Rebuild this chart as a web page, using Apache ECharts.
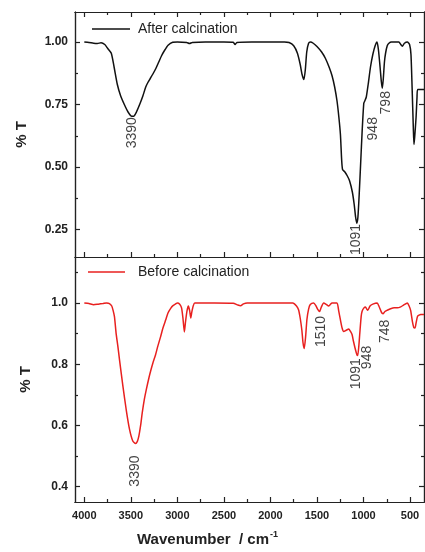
<!DOCTYPE html>
<html>
<head>
<meta charset="utf-8">
<script src="https://cdn.jsdelivr.net/npm/echarts@6/dist/echarts.min.js"></script>
<style>
html, body { margin: 0; padding: 0; background: #fff; }
#chart { width: 425px; height: 552px; }
</style>
</head>
<body>
<div id="chart"></div>
<script>
//刻度
var xMajor = [500, 1000, 1500, 2000, 2500, 3000, 3500, 4000];
var xMinor = [750, 1250, 1750, 2250, 2750, 3250, 3750];
var yTopMajor = [0.25, 0.5, 0.75, 1.0];
var yTopMinor = [0.375, 0.625, 0.875];
var yBotMajor = [0.4, 0.6, 0.8, 1.0];
var yBotMinor = [0.5, 0.7, 0.9, 1.1];

//After calcination  [wavenumber, %T]
var afterCalc = [
	[4000, 1.0], [3950, 0.998], [3900, 0.995], [3860, 0.994], [3820, 0.997], [3780, 0.99],
	[3750, 0.975], [3710, 0.955], [3680, 0.90], [3645, 0.83], [3610, 0.785], [3570, 0.75],
	[3530, 0.72], [3490, 0.703], [3470, 0.703], [3440, 0.72], [3400, 0.755], [3370, 0.785],
	[3340, 0.82], [3317, 0.838], [3290, 0.855], [3263, 0.872], [3230, 0.895], [3200, 0.92],
	[3170, 0.945], [3140, 0.965], [3100, 0.987], [3050, 0.999], [3000, 1.0], [2900, 0.998],
	[2870, 0.994], [2840, 0.998], [2700, 1.0], [2500, 1.0], [2400, 0.999], [2380, 0.99],
	[2360, 0.998], [2200, 1.0], [2000, 1.0], [1850, 1.0], [1800, 0.998], [1750, 0.985],
	[1710, 0.955], [1680, 0.91], [1660, 0.87], [1640, 0.85], [1625, 0.89], [1610, 0.96],
	[1590, 0.995], [1570, 1.0], [1540, 0.995], [1500, 0.982], [1450, 0.96], [1410, 0.935],
	[1370, 0.9], [1338, 0.865], [1310, 0.82], [1285, 0.765], [1265, 0.7], [1248, 0.63],
	[1235, 0.53], [1225, 0.49], [1200, 0.48], [1175, 0.465], [1150, 0.445], [1120, 0.4],
	[1100, 0.35], [1085, 0.3], [1072, 0.275], [1060, 0.3], [1045, 0.4], [1030, 0.52],
	[1015, 0.64], [997, 0.755], [985, 0.765], [970, 0.78], [950, 0.83], [925, 0.9],
	[900, 0.95], [875, 0.985], [855, 1.0], [840, 0.97], [822, 0.9], [808, 0.84],
	[798, 0.815], [788, 0.85], [775, 0.92], [763, 0.955], [745, 0.985], [727, 0.995],
	[700, 1.0], [620, 1.0], [600, 0.99], [583, 0.983], [560, 0.995], [529, 1.0],
	[505, 0.99], [490, 0.95], [478, 0.82], [465, 0.66], [458, 0.59], [450, 0.62],
	[435, 0.70], [425, 0.78], [418, 0.81], [350, 0.81]
];

//Before calcination  [wavenumber, %T]
var beforeCalc = [
	[4000, 1.0], [3950, 0.998], [3900, 0.994], [3850, 0.996], [3800, 0.998], [3760, 1.0],
	[3730, 0.998], [3705, 0.99], [3690, 0.975], [3676, 0.955], [3658, 0.9], [3640, 0.86],
	[3622, 0.815], [3586, 0.73], [3550, 0.652], [3514, 0.587], [3479, 0.549], [3450, 0.541],
	[3430, 0.548], [3414, 0.565], [3395, 0.6], [3378, 0.64], [3355, 0.685], [3334, 0.717],
	[3306, 0.755], [3285, 0.78], [3263, 0.804], [3235, 0.83], [3210, 0.859], [3180, 0.89],
	[3155, 0.918], [3125, 0.945], [3101, 0.967], [3070, 0.983], [3047, 0.991], [3000, 1.0],
	[2975, 0.996], [2955, 0.984], [2940, 0.95], [2925, 0.905], [2912, 0.94], [2896, 0.975],
	[2882, 0.99], [2868, 0.975], [2856, 0.951], [2845, 0.97], [2830, 0.99], [2813, 1.0],
	[2600, 1.0], [2400, 0.999], [2350, 0.993], [2320, 0.991], [2290, 0.997], [2250, 1.0],
	[2000, 1.0], [1760, 1.0], [1720, 0.99], [1698, 0.978], [1680, 0.95], [1662, 0.91],
	[1650, 0.87], [1637, 0.851], [1622, 0.89], [1608, 0.946], [1590, 0.98], [1572, 0.995],
	[1536, 1.0], [1510, 0.99], [1490, 0.978], [1472, 0.972], [1455, 0.985], [1428, 1.0],
	[1400, 0.995], [1375, 0.99], [1357, 0.995], [1338, 1.0], [1285, 1.0], [1267, 0.975],
	[1249, 0.946], [1230, 0.918], [1213, 0.907], [1190, 0.91], [1159, 0.915], [1140, 0.907],
	[1123, 0.897], [1108, 0.875], [1087, 0.848], [1070, 0.83], [1062, 0.828], [1050, 0.86],
	[1040, 0.9], [1025, 0.956], [1015, 0.973], [995, 0.984], [979, 0.987], [965, 0.98],
	[954, 0.976], [930, 0.99], [900, 0.996], [853, 1.0], [835, 0.99], [815, 0.975],
	[800, 0.966], [788, 0.965], [770, 0.972], [745, 0.976], [709, 0.981], [670, 0.984],
	[637, 0.984], [600, 0.987], [570, 0.993], [529, 1.0], [510, 0.99], [493, 0.975],
	[475, 0.94], [460, 0.92], [447, 0.918], [435, 0.935], [420, 0.956], [403, 0.96],
	[385, 0.962], [350, 0.962]
];

//峰位标注 [wavenumber, %T, text]
var afterPeaks = [[3482, 0.637, '3390'], [1076, 0.21, '1091'], [892, 0.653, '948'], [752, 0.757, '798']];
var beforePeaks = [[3450, 0.451, '3390'], [1454, 0.907, '1510'], [1079, 0.769, '1091'], [960, 0.822, '948'], [763, 0.907, '748']];

(function() {
	var font = '"Liberation Sans", Arial, sans-serif';
	var ink = '#222';
	var axisLine = { show: true, onZero: false, lineStyle: { color: ink, width: 1.2 } };

	//横轴
	function xAxisOf(grid, pos, ticks, len, labels) {
		return {
			type: 'value', gridIndex: grid, position: pos,
			min: 350, max: 4100, inverse: true,
			axisLine: axisLine,
			axisTick: { show: true, inside: true, length: len, customValues: ticks, lineStyle: { color: ink, width: 1.2 } },
			axisLabel: labels ? {
				show: true, customValues: ticks, margin: 8, color: ink,
				fontSize: 11, fontWeight: 'bold', fontFamily: font,
				formatter: function(v) { return String(v); }
			} : { show: false },
			splitLine: { show: false }
		};
	}

	//纵轴
	function yAxisOf(grid, pos, min, max, ticks, len, digits, gap) {
		var axis = {
			type: 'value', gridIndex: grid, position: pos, min: min, max: max,
			axisLine: axisLine,
			axisTick: { show: true, inside: true, length: len, customValues: ticks, lineStyle: { color: ink, width: 1.2 } },
			axisLabel: { show: false },
			splitLine: { show: false }
		};
		if (digits) {
			axis.axisLabel = {
				show: true, customValues: ticks, margin: 7, color: ink,
				fontSize: 12, fontWeight: 'bold', fontFamily: font,
				formatter: function(v) { return v.toFixed(digits); }
			};
			axis.name = '% T';
			axis.nameLocation = 'middle';
			axis.nameRotate = 90;
			axis.nameGap = gap;
			axis.nameTextStyle = { fontSize: 15, fontWeight: 'bold', color: ink, fontFamily: font };
		}
		return axis;
	}

	//峰位文字
	function peakSeries(xi, yi, data) {
		return {
			type: 'scatter', xAxisIndex: xi, yAxisIndex: yi, data: data,
			symbolSize: 1, itemStyle: { color: 'rgba(0,0,0,0)' }, silent: true, clip: false,
			label: {
				show: true, position: 'inside', rotate: 90, align: 'center', verticalAlign: 'middle',
				fontSize: 14, color: '#111', fontFamily: font,
				formatter: function(p) { return p.data[2]; }
			},
			emphasis: { disabled: true }
		};
	}

	var chart = echarts.init(document.getElementById('chart'));
	chart.setOption({
		animation: false,
		backgroundColor: '#fff',
		grid: [
			{ left: 75, right: 1, top: 12, height: 245, outerBoundsMode: 'none' },
			{ left: 75, right: 1, top: 257, height: 245, outerBoundsMode: 'none' }
		],
		xAxis: [
			xAxisOf(0, 'bottom', xMajor, 5, false),
			xAxisOf(0, 'bottom', xMinor, 3, false),
			xAxisOf(0, 'top', xMajor, 5, false),
			xAxisOf(0, 'top', xMinor, 3, false),
			xAxisOf(1, 'bottom', xMajor, 5, true),
			xAxisOf(1, 'bottom', xMinor, 3, false)
		],
		yAxis: [
			yAxisOf(0, 'left', 0.14, 1.12, yTopMajor, 5, 2, 46),
			yAxisOf(0, 'left', 0.14, 1.12, yTopMinor, 3),
			yAxisOf(0, 'right', 0.14, 1.12, yTopMajor, 5),
			yAxisOf(0, 'right', 0.14, 1.12, yTopMinor, 3),
			yAxisOf(1, 'left', 0.35, 1.15, yBotMajor, 5, 1, 42),
			yAxisOf(1, 'left', 0.35, 1.15, yBotMinor, 3),
			yAxisOf(1, 'right', 0.35, 1.15, yBotMajor, 5),
			yAxisOf(1, 'right', 0.35, 1.15, yBotMinor, 3)
		],
		legend: [
			{
				data: ['After calcination'], left: 92, top: 22, padding: 0, icon: 'rect', itemWidth: 38, itemHeight: 1.6,
				textStyle: { fontSize: 14, color: ink, fontFamily: font, padding: [0, 0, 0, 3] }
			},
			{
				data: ['Before calcination'], left: 88, top: 265, padding: 0, icon: 'rect', itemWidth: 37, itemHeight: 1.6,
				textStyle: { fontSize: 14, color: ink, fontFamily: font, padding: [0, 0, 0, 8] }
			}
		],
		graphic: [{
			type: 'text', x: 137, y: 540, silent: true,
			style: {
				text: '{a|Wavenumber  / cm}{s|-1}',
				align: 'left', verticalAlign: 'middle',
				rich: {
					a: { fontSize: 15, fontWeight: 'bold', fill: ink, fontFamily: font },
					s: { fontSize: 9, fontWeight: 'bold', fill: ink, fontFamily: font, padding: [0, 0, 10, 1] }
				}
			}
		}],
		series: [
			{
				name: 'After calcination', type: 'line', xAxisIndex: 0, yAxisIndex: 0,
				data: afterCalc, showSymbol: false, symbol: 'none', smooth: 0.2,
				lineStyle: { color: '#111', width: 1.5 }, itemStyle: { color: '#111' }
			},
			{
				name: 'Before calcination', type: 'line', xAxisIndex: 4, yAxisIndex: 4,
				data: beforeCalc, showSymbol: false, symbol: 'none', smooth: 0.2,
				lineStyle: { color: '#e8201f', width: 1.5 }, itemStyle: { color: '#e8201f' }
			},
			peakSeries(0, 0, afterPeaks),
			peakSeries(4, 4, beforePeaks)
		]
	});
})();
</script>
</body>
</html>
